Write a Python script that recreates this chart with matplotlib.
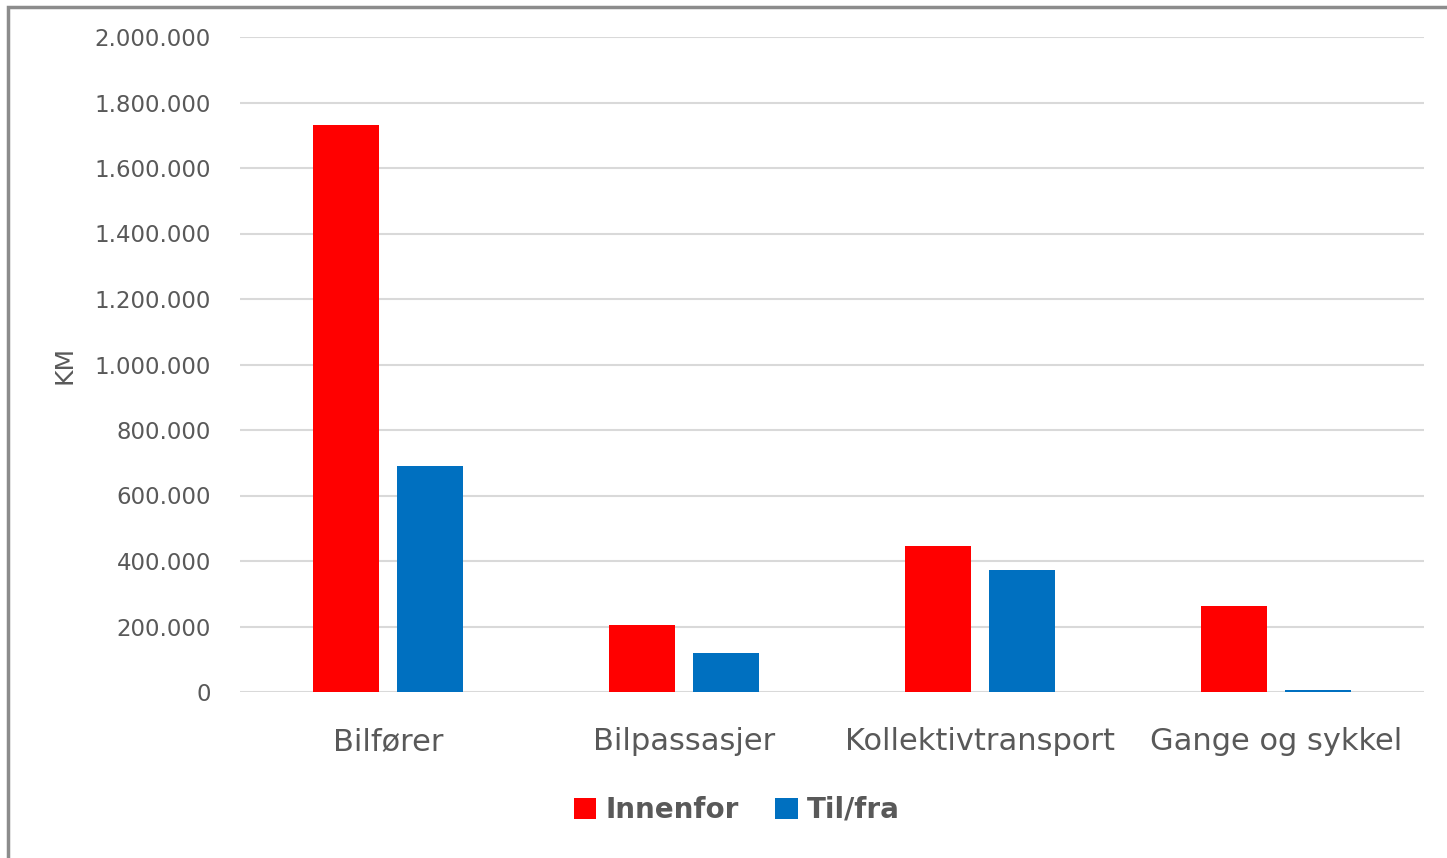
import matplotlib.pyplot as plt
import numpy as np
from matplotlib.patches import Rectangle
from matplotlib.ticker import FuncFormatter

categories = ["Bilfører", "Bilpassasjer", "Kollektivtransport", "Gange og sykkel"]
innenfor = [1732000, 205000, 446000, 262000]
til_fra = [690000, 119000, 372000, 6000]
series_names = ["Innenfor", "Til/fra"]

plt.rcParams['font.family'] = ['DejaVu Sans']
text_col = "#595959"

fig = plt.figure(figsize=(14.47, 8.58), dpi=100)
ax = fig.add_axes([240 / 1447, 1 - 692 / 858, 1184 / 1447, 655 / 858])

# grey frame round the chart area
fig.patches.append(Rectangle((8 / 1447, -0.05), 1.1, 1 - 7 / 858 + 0.05,
                             transform=fig.transFigure, fill=False,
                             edgecolor="#8c8c8c", linewidth=2.5))

x = np.arange(len(categories))
w = 0.223
ax.bar(x - 0.143, innenfor, w, color="#ff0000", label=series_names[0], zorder=3)
ax.bar(x + 0.143, til_fra, w, color="#0070c0", label=series_names[1], zorder=3)

ax.set_xlim(-0.5, 3.5)
ax.set_ylim(0, 2000000)
ax.set_yticks(np.arange(0, 2000001, 200000))
ax.yaxis.set_major_formatter(FuncFormatter(lambda v, p: f"{int(v):,}".replace(",", ".")))
ax.grid(axis="y", color="#d9d9d9", linewidth=1.5, zorder=0)
for s in ax.spines.values():
    s.set_visible(False)
ax.tick_params(axis="y", length=0, pad=21, labelsize=16.5, labelcolor=text_col)
ax.tick_params(axis="x", length=0, pad=25, labelsize=22, labelcolor=text_col)
ax.set_xticks(x)
ax.set_xticklabels(categories)
ax.set_ylabel("KM", fontsize=18, color=text_col)
ax.yaxis.set_label_coords(-0.1385, 0.5)

leg = fig.legend(loc="center", bbox_to_anchor=(737 / 1447, 1 - 810 / 858), ncol=2,
                 frameon=False, handlelength=0.8, handleheight=0.8, handletextpad=0.35,
                 columnspacing=1.3, prop={"size": 20, "weight": "bold"})
for t in leg.get_texts():
    t.set_color(text_col)

fig.savefig("out.png", dpi=100)
